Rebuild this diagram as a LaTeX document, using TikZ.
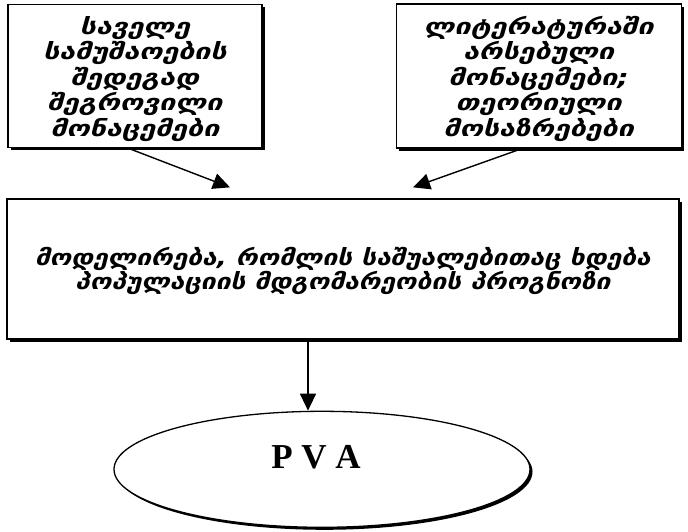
\documentclass[tikz,border=0pt]{standalone}
\usepackage{fontspec}
\newfontfamily\geofont{DejaVu Sans}[FakeStretch=1.3]
\newfontfamily\geomodel{DejaVu Sans}[FakeStretch=1.2]
\newfontfamily\pvafont{Liberation Serif}
\usepackage{tikz}
\usetikzlibrary{shapes,arrows.meta,positioning,calc,shadows}

\begin{document}
\begin{tikzpicture}[
    x=1pt, y=-1pt,
    node distance=50pt and 130pt,
    srcbox/.style={rectangle, draw, line width=1.3pt, fill=white, align=center, inner sep=0pt,
        drop shadow={shadow xshift=3pt, shadow yshift=-3pt, fill=black, opacity=1},
        font=\geofont\bfseries\itshape\fontsize{22}{25.5}\selectfont},
    modelbox/.style={srcbox, font=\geomodel\bfseries\itshape\fontsize{22}{24}\selectfont},
    result/.style={ellipse, draw, line width=1.3pt, fill=white, inner sep=0pt,
        drop shadow={shadow xshift=2.5pt, shadow yshift=-2.5pt, fill=black, opacity=1}},
    arrow/.style={-{Triangle[length=17pt,width=16pt]}, line width=1.4pt}
]
\useasboundingbox (0,0) rectangle (688,532);
\node[srcbox, minimum width=254pt, minimum height=143pt] (field) at (135,76)
    {\rule{0pt}{24pt}საველე\\სამუშაოების\\შედეგად\\შეგროვილი\\მონაცემები};
\node[srcbox, minimum width=285pt, minimum height=144pt, right=133pt of field] (lit)
    {\rule{0pt}{24pt}ლიტერატურაში\\არსებული\\მონაცემები;\\თეორიული\\მოსაზრებები};
\node[modelbox, minimum width=672pt, minimum height=140pt] (model) at (343,269)
    {\rule{0pt}{22pt}მოდელირება, რომლის საშუალებითაც ხდება\\პოპულაციის მდგომარეობის პროგნოზი};
\node[result, minimum width=416pt, minimum height=116pt, below=71pt of model, xshift=-21pt] (pva) {};
\node[anchor=base, font=\pvafont\bfseries\fontsize{35}{35}\selectfont] (pvalabel) at (316,468) {P V A};
% arrows
\draw[arrow] ([xshift=-7pt]field.south) -- ([shift={(-113pt,11pt)}]model.north);
\draw[arrow] ([xshift=-17pt]lit.south) -- ([shift={(70pt,11pt)}]model.north);
\draw[arrow] ([xshift=-35pt]model.south) -- ([xshift=-35pt]model.south |- pva.north);
\end{tikzpicture}
\end{document}
